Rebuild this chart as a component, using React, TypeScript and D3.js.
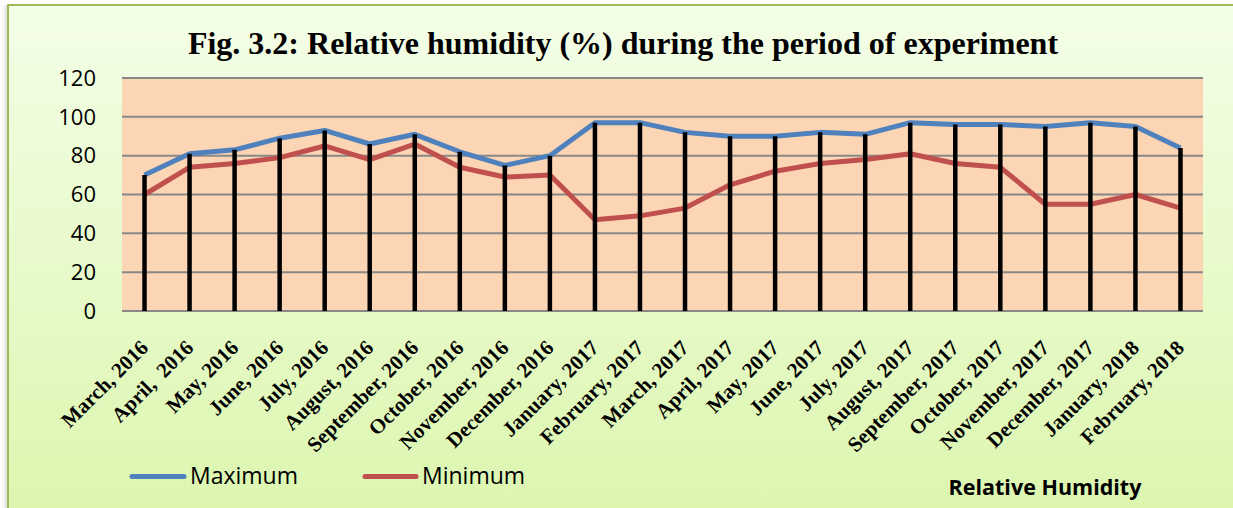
import React from "react";
import * as d3 from "d3";

const months = [
  "March, 2016", "April,  2016", "May, 2016", "June, 2016", "July, 2016", "August, 2016",
  "September, 2016", "October, 2016", "November, 2016", "December, 2016", "January, 2017",
  "February, 2017", "March, 2017", "April, 2017", "May, 2017", "June, 2017", "July, 2017",
  "August, 2017", "September, 2017", "October, 2017", "November, 2017", "December, 2017",
  "January, 2018", "February, 2018",
];
const maximum = [70, 81, 83, 89, 93, 86, 91, 82, 75, 80, 97, 97, 92, 90, 90, 92, 91, 97, 96, 96, 95, 97, 95, 84];
const minimum = [60, 74, 76, 79, 85, 78, 86, 74, 69, 70, 47, 49, 53, 65, 72, 76, 78, 81, 76, 74, 55, 55, 60, 53];
const yTicks = [0, 20, 40, 60, 80, 100, 120];
const title = "Fig. 3.2: Relative humidity (%) during the period of experiment";
const seriesNames = ["Maximum", "Minimum"];
const axisTitle = "Relative Humidity";

const W = 1233;
const H = 508;
const plot = { left: 122, right: 1203, top: 78, bottom: 311 };
const BLUE = "#4F81BD";
const RED = "#C0504D";

export default function App() {
  const x = d3.scaleBand<string>().domain(months).range([plot.left, plot.right]).padding(0);
  const cx = (m: string) => (x(m) as number) + x.bandwidth() / 2;
  const y = d3.scaleLinear().domain([0, 120]).range([plot.bottom, plot.top]);
  const line = d3
    .line<number>()
    .x((_, i) => cx(months[i]))
    .y((d) => y(d));

  return (
    <svg
      width={W}
      height={H}
      style={{ position: "absolute", left: 0, top: 0 }}
      xmlns="http://www.w3.org/2000/svg"
    >
      <defs>
        <linearGradient id="bg" x1="0" y1="0" x2="0" y2="1">
          <stop offset="0%" stopColor="#F4FEE8" />
          <stop offset="100%" stopColor="#DBF6AD" />
        </linearGradient>
        <linearGradient id="shadow" x1="0" y1="0" x2="1" y2="0">
          <stop offset="0%" stopColor="#FFFFFF" />
          <stop offset="100%" stopColor="#D8D8D8" />
        </linearGradient>
      </defs>
      <rect x={0} y={0} width={W} height={H} fill="#FFFFFF" />
      <rect x={2} y={5} width={6} height={H} fill="url(#shadow)" />
      <rect x={8} y={5} width={W + 20} height={H + 20} fill="url(#bg)" stroke="#9BBB59" strokeWidth={2} />

      <text
        x={623}
        y={54}
        textAnchor="middle"
        fontFamily="'Liberation Serif', 'Times New Roman', serif"
        fontWeight="bold"
        fontSize={32}
        fill="#000"
      >
        {title}
      </text>

      <rect
        x={plot.left}
        y={plot.top}
        width={plot.right - plot.left}
        height={plot.bottom - plot.top}
        fill="#FCD5B5"
      />
      {yTicks.map((t) => (
        <g key={t}>
          <line x1={plot.left} x2={plot.right} y1={y(t)} y2={y(t)} stroke="#888888" strokeWidth={2} />
          <text
            x={96}
            y={y(t)}
            dy="0.35em"
            textAnchor="end"
            fontFamily="'Open Sans', sans-serif"
            fontSize={22}
            fill="#000"
          >
            {t}
          </text>
        </g>
      ))}

      <path d={line(maximum) || ""} fill="none" stroke={BLUE} strokeWidth={5} strokeLinejoin="round" />
      <path d={line(minimum) || ""} fill="none" stroke={RED} strokeWidth={5} strokeLinejoin="round" />

      {months.map((m, i) => (
        <line
          key={m}
          x1={cx(m)}
          x2={cx(m)}
          y1={y(0)}
          y2={y(maximum[i])}
          stroke="#000"
          strokeWidth={4.5}
        />
      ))}

      {months.map((m) => (
        <text
          key={m}
          transform={`translate(${cx(m) + 5},${349}) rotate(-45)`}
          textAnchor="end"
          fontFamily="'Liberation Serif', 'Times New Roman', serif"
          fontWeight="bold"
          fontSize={21}
          fill="#000"
          style={{ whiteSpace: "pre" }}
        >
          {m}
        </text>
      ))}

      <line x1={132} x2={184} y1={476.5} y2={476.5} stroke={BLUE} strokeWidth={5} strokeLinecap="round" />
      <text x={190} y={484} fontFamily="'Open Sans', sans-serif" fontSize={23} fill="#000">
        {seriesNames[0]}
      </text>
      <line x1={365} x2={416} y1={476.5} y2={476.5} stroke={RED} strokeWidth={5} strokeLinecap="round" />
      <text x={422} y={484} fontFamily="'Open Sans', sans-serif" fontSize={23} fill="#000">
        {seriesNames[1]}
      </text>

      <text
        x={1045}
        y={495}
        textAnchor="middle"
        fontFamily="'Open Sans', sans-serif"
        fontWeight="bold"
        fontSize={21.5}
        fill="#000"
      >
        {axisTitle}
      </text>
    </svg>
  );
}
